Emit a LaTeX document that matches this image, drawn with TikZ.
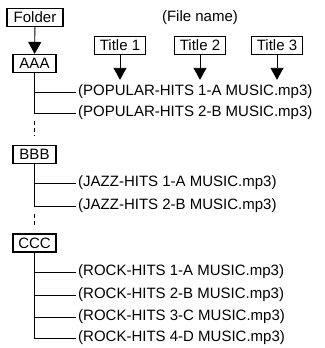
\documentclass[tikz,border=0pt]{standalone}
\usepackage{fontspec}
\setmainfont{Liberation Sans}
\usetikzlibrary{positioning,arrows.meta}

\begin{document}
\begin{tikzpicture}[
    x=1pt, y=-1pt,
    font=\fontsize{15}{17}\selectfont,
    box/.style={draw, line width=1.1pt, minimum height=18pt, inner xsep=5pt,
                inner ysep=1.5pt},
    dirbox/.style={box, minimum width=43pt},
    titlebox/.style={box, minimum width=51pt},
    file/.style={anchor=west, inner xsep=2pt, inner ysep=0pt},
    tree/.style={line width=0.9pt},
    gap/.style={line width=0.9pt, dash pattern=on 4pt off 3pt},
    arr/.style={-{Triangle[length=12pt,width=13pt]}, line width=0.9pt},
  ]
  \useasboundingbox (0,0) rectangle (324,348);

  % --- header: folder and title boxes ---
  \node[box, minimum width=56pt] (folder) at (35,17.5) {Folder};
  \node (fname) at (200,18) {(File name)};
  \node[titlebox] (t1) at (120,45.5) {Title 1};
  \node[titlebox] (t2) at (200,45.5) {Title 2};
  \node[titlebox] (t3) at (277,45.5) {Title 3};

  % --- AAA ---
  \node[dirbox] (aaa) at (34.5,63.5) {AAA};
  \node[file] (p1) at (76,92)  {(POPULAR-HITS 1-A MUSIC.mp3)};
  \node[file] (p2) at (76,113) {(POPULAR-HITS 2-B MUSIC.mp3)};

  % --- BBB ---
  \node[dirbox] (bbb) at (34.5,154.5) {BBB};
  \node[file] (j1) at (76,183) {(JAZZ-HITS 1-A MUSIC.mp3)};
  \node[file] (j2) at (76,206) {(JAZZ-HITS 2-B MUSIC.mp3)};

  % --- CCC ---
  \node[dirbox] (ccc) at (34.5,243) {CCC};
  \node[file] (r1) at (76,272) {(ROCK-HITS 1-A MUSIC.mp3)};
  \node[file] (r2) at (76,295) {(ROCK-HITS 2-B MUSIC.mp3)};
  \node[file] (r3) at (76,317) {(ROCK-HITS 3-C MUSIC.mp3)};
  \node[file] (r4) at (76,338) {(ROCK-HITS 4-D MUSIC.mp3)};

  % arrows
  \draw[arr] (folder) -- (aaa);
  \draw[arr] (t1) -- ([yshift=5pt]t1.south |- p1.north);
  \draw[arr] (t2) -- ([yshift=5pt]t2.south |- p1.north);
  \draw[arr] (t3) -- ([yshift=5pt]t3.south |- p1.north);

  % tree lines
  \draw[tree] (aaa.south) |- (p1.west);
  \draw[tree] (aaa.south) |- (p2.west);
  \draw[gap] ([yshift=-8pt]aaa.south |- p2.west) -- ([yshift=9pt]bbb.north);

  \draw[tree] (bbb.south) |- (j1.west);
  \draw[tree] (bbb.south) |- (j2.west);
  \draw[gap] ([yshift=-8pt]bbb.south |- j2.west) -- ([yshift=8pt]ccc.north);

  \draw[tree] (ccc.south) |- (r1.west);
  \draw[tree] (ccc.south) |- (r2.west);
  \draw[tree] (ccc.south) |- (r3.west);
  \draw[tree] (ccc.south) |- (r4.west);
\end{tikzpicture}
\end{document}
